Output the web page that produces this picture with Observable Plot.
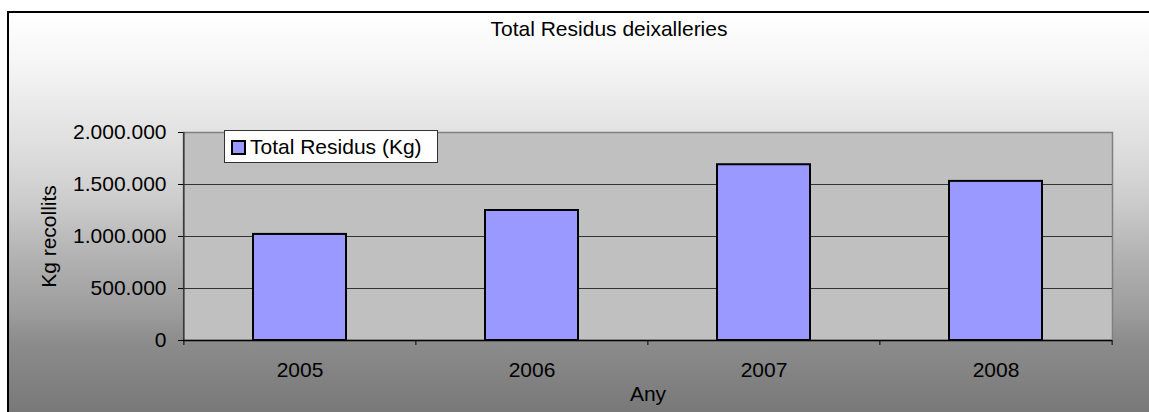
<!DOCTYPE html>
<html>
<head>
<meta charset="utf-8">
<script src="https://cdn.jsdelivr.net/npm/d3@7"></script>
<script src="https://cdn.jsdelivr.net/npm/@observablehq/plot@0.6"></script>
<style>
  html, body { margin: 0; padding: 0; }
  body { width: 1149px; height: 412px; overflow: hidden; position: relative; background: #fff;
         font-family: "Liberation Sans", Arial, sans-serif; color: #000; }
  #bg { position: absolute; left: 7px; top: 11px; width: 1200px; height: 401px;
        border-left: 2px solid #000; border-top: 2px solid #000;
        background: linear-gradient(to bottom, #ffffff 0%, #f6f6f6 12%, #dadada 37%, #cccccc 47%,
                    #b0b0b0 62%, #9c9c9c 75%, #8c8c8c 82%, #787878 100%); }
  #chart { position: absolute; left: 0; top: 0; }
  #title { position: absolute; left: 309px; width: 600px; top: 18px; text-align: center;
           font-size: 21px; line-height: 21px; white-space: nowrap; }
  #legend { position: absolute; left: 224px; top: 130px; width: 212px; height: 31px;
            background: #fff; border: 1px solid #333; }
  #legend .sw { position: absolute; left: 6px; top: 9px; width: 11px; height: 11px;
                background: #9999ff; border: 2px solid #000; }
  #legend .lt { position: absolute; left: 25px; top: 5px; font-size: 21px; line-height: 21px; white-space: nowrap; }
</style>
</head>
<body>
<div id="bg"></div>
<div id="chart"></div>
<div id="title"></div>
<div id="legend"><span class="sw"></span><span class="lt"></span></div>
<script>
const chartTitle = "Total Residus deixalleries";
const years = ["2005", "2006", "2007", "2008"];
const totals = [1020000, 1250000, 1690000, 1530000];
const seriesName = "Total Residus (Kg)";
const yTicks = [0, 500000, 1000000, 1500000, 2000000];
const yLabel = "Kg recollits";
const xLabel = "Any";

document.getElementById("title").textContent = chartTitle;
document.querySelector("#legend .lt").textContent = seriesName;

const W = 1149, H = 412, mL = 183, mR = 37, mT = 132, mB = 72;
const step = (W - mL - mR) / years.length;
const data = years.map((y, i) => ({year: y, total: totals[i]}));
const fmt = d => d3.format(",")(d).replace(/,/g, ".");

const chart = Plot.plot({
  width: W, height: H,
  marginLeft: mL, marginRight: mR, marginTop: mT, marginBottom: mB,
  style: {background: "transparent", fontFamily: '"Liberation Sans", Arial, sans-serif', fontSize: "21px", color: "#000"},
  x: {type: "band", domain: years, paddingInner: 0.6, paddingOuter: 0.3},
  y: {domain: [0, 2000000]},
  marks: [
    Plot.frame({fill: "#c0c0c0", stroke: "#808080", strokeWidth: 1.5}),
    Plot.ruleY(yTicks.slice(1, -1), {stroke: "#333", strokeWidth: 1}),
    Plot.barY(data, {x: "year", y: "total", fill: "#9999ff", stroke: "#000", strokeWidth: 2}),
    Plot.ruleX([years[0]], {x: d => d, dx: -step / 2, stroke: "#222", strokeWidth: 1.2}),
    Plot.ruleY([0], {stroke: "#000", strokeWidth: 1.5}),
    Plot.ruleX(years, {x: d => d, y1: 0, y2: 0, dx: -step / 2, insetBottom: -5, stroke: "#000"}),
    Plot.ruleX([years[years.length - 1]], {x: d => d, y1: 0, y2: 0, dx: step / 2, insetBottom: -5, stroke: "#000"}),
    Plot.axisY({ticks: yTicks, tickFormat: fmt, tickSize: 5, tickPadding: 12, label: null, stroke: "#000", fontSize: 21}),
    Plot.axisX({tickSize: 0, tickPadding: 22, label: null, fontSize: 21}),
    Plot.text([yLabel], {frameAnchor: "left", textAnchor: "middle", dx: -134, rotate: -90, text: d => d, fontSize: 21, fill: "#000"}),
    Plot.text([xLabel], {frameAnchor: "bottom", dy: 60, text: d => d, fontSize: 21, fill: "#000"})
  ]
});
document.getElementById("chart").appendChild(chart);
</script>
</body>
</html>
